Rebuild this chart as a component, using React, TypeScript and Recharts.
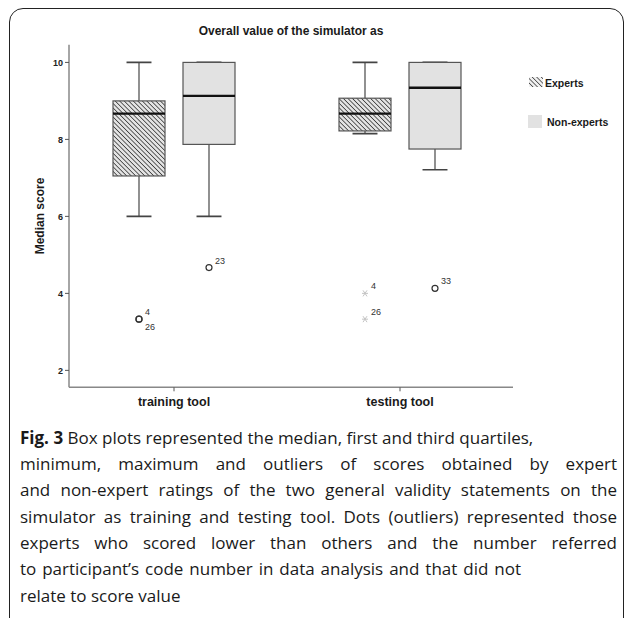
import React from 'react';
import { ComposedChart, Bar, XAxis, YAxis } from 'recharts';

// ---------- data ----------
const categories = ['training tool', 'testing tool'];
const seriesNames = ['Experts', 'Non-experts'];

const expertsMin = [6.0, 8.15];
const expertsQ1 = [7.05, 8.22];
const expertsMedian = [8.67, 8.67];
const expertsQ3 = [9.0, 9.07];
const expertsMax = [10.0, 10.0];

const nonExpertsMin = [6.0, 7.21];
const nonExpertsQ1 = [7.87, 7.75];
const nonExpertsMedian = [9.13, 9.34];
const nonExpertsQ3 = [10.0, 10.0];
const nonExpertsMax = [10.0, 10.0];

const expertsOutlierValues = [[3.33, 3.33], [4.0, 3.33]];
const expertsOutlierIds = [['4', '26'], ['4', '26']];
const expertsOutlierKinds = [['o', 'o'], ['*', '*']];

const nonExpertsOutlierValues = [[4.67], [4.13]];
const nonExpertsOutlierIds = [['23'], ['33']];
const nonExpertsOutlierKinds = [['o'], ['o']];

const yTicks = [2, 4, 6, 8, 10];
const yDomain = [1.56, 10.46];

const titleText = 'Overall value of the simulator as';
const yLabel = 'Median score';

const captionLines = [
  'Box plots represented the median, first and third quartiles,',
  'minimum, maximum and outliers of scores obtained by expert',
  'and non-expert ratings of the two general validity statements on the',
  'simulator as training and testing tool. Dots (outliers) represented those',
  'experts who scored lower than others and the number referred',
  'to participant\u2019s code number in data analysis and that did not',
  'relate to score value',
];
const captionLead = 'Fig. 3';

// ---------- build table ----------
const mkStats = (mins, q1s, meds, q3s, maxs, ov, oid, ok, i) => ({
  min: mins[i], q1: q1s[i], med: meds[i], q3: q3s[i], max: maxs[i],
  outliers: ov[i].map((v, j) => ({ v, id: oid[i][j], kind: ok[i][j] })),
});

const data = categories.map((category, i) => ({
  category,
  exp: mkStats(expertsMin, expertsQ1, expertsMedian, expertsQ3, expertsMax,
    expertsOutlierValues, expertsOutlierIds, expertsOutlierKinds, i),
  non: mkStats(nonExpertsMin, nonExpertsQ1, nonExpertsMedian, nonExpertsQ3, nonExpertsMax,
    nonExpertsOutlierValues, nonExpertsOutlierIds, nonExpertsOutlierKinds, i),
}));

const fontAx = '"Liberation Sans", Arial, sans-serif';

// ---------- box shape ----------
const BoxShape = (props: any) => {
  const { x, y, width, height, payload, skey, fill } = props;
  const s = payload[skey];
  const top = Math.min(y, y + height);
  const h = Math.abs(height);
  const ppu = h / (s.max - s.min);
  const py = (v: number) => top + (s.max - v) * ppu;
  const cx = x + width / 2;
  const capW = width * 0.48;
  let prev: number | null = null;
  return (
    <g>
      <line x1={cx} x2={cx} y1={py(s.max)} y2={py(s.q3)} stroke="#555" strokeWidth={1.3} />
      <line x1={cx} x2={cx} y1={py(s.q1)} y2={py(s.min)} stroke="#555" strokeWidth={1.3} />
      <line x1={cx - capW / 2} x2={cx + capW / 2} y1={py(s.max)} y2={py(s.max)} stroke="#444" strokeWidth={1.6} />
      <line x1={cx - capW / 2} x2={cx + capW / 2} y1={py(s.min)} y2={py(s.min)} stroke="#444" strokeWidth={1.6} />
      <rect x={x} y={py(s.q3)} width={width} height={py(s.q1) - py(s.q3)} fill={fill} stroke="#555" strokeWidth={1.2} />
      <line x1={x} x2={x + width} y1={py(s.med)} y2={py(s.med)} stroke="#111" strokeWidth={2.4} />
      {s.outliers.map((o: any, j: number) => {
        const oy = py(o.v);
        const same = prev !== null && Math.abs(prev - o.v) < 0.01;
        prev = o.v;
        const lx = cx + 6;
        const ly = same ? oy + 11 : oy - 4;
        return (
          <g key={j}>
            {o.kind === 'o' ? (
              <circle cx={cx} cy={oy} r={3} fill="none" stroke="#333" strokeWidth={1.2} />
            ) : (
              <g stroke="#c4c4c4" strokeWidth={1}>
                <line x1={cx - 3} x2={cx + 3} y1={oy} y2={oy} />
                <line x1={cx - 2} x2={cx + 2} y1={oy - 3} y2={oy + 3} />
                <line x1={cx + 2} x2={cx - 2} y1={oy - 3} y2={oy + 3} />
              </g>
            )}
            <text x={lx} y={ly} fontSize={9} fill="#333" fontFamily={fontAx}>{o.id}</text>
          </g>
        );
      })}
    </g>
  );
};

export default function App() {
  return (
    <div style={{ position: 'absolute', left: 0, top: 0, width: 627, height: 618, overflow: 'hidden', background: '#fff' }}>
      <div style={{ position: 'absolute', left: 9, top: 8, width: 615, height: 630, border: '1.5px solid #222', borderRadius: 14, boxSizing: 'border-box' }} />
      <div style={{ position: 'absolute', left: 69, top: 23, width: 444, textAlign: 'center', fontFamily: fontAx, fontSize: 12, fontWeight: 'bold', color: '#1a1a1a', lineHeight: '16px' }}>{titleText}</div>
      <div style={{ position: 'absolute', left: 0, top: 0 }}>
        <ComposedChart width={627} height={420} data={data} margin={{ top: 44.7, right: 114, left: 11, bottom: 2.7 }} barSize={52} barGap={18}>
          <defs>
            <pattern id="hatchExp" patternUnits="userSpaceOnUse" width="3.2" height="3.2" patternTransform="rotate(-45)">
              <rect width="3.2" height="3.2" fill="#e4e4e4" />
              <line x1="0" y1="0" x2="0" y2="3.2" stroke="#333" strokeWidth="1.5" />
            </pattern>
          </defs>
          <XAxis dataKey="category" padding={{ left: -8, right: 0 }} tickSize={4} tickMargin={6} height={30}
            axisLine={{ stroke: '#888', strokeWidth: 1.5 }} tickLine={{ stroke: '#555' }}
            tick={{ fontFamily: fontAx, fontSize: 12.5, fontWeight: 'bold', fill: '#1a1a1a' }} />
          <XAxis xAxisId="top" orientation="top" dataKey="category" height={0} tick={false} tickLine={false}
            axisLine={{ stroke: '#888', strokeWidth: 1.5 }} />
          <YAxis domain={yDomain} ticks={yTicks} allowDataOverflow type="number" width={58} tickSize={4} tickMargin={2}
            axisLine={{ stroke: '#888', strokeWidth: 1.5 }} tickLine={{ stroke: '#555' }}
            tick={{ fontFamily: fontAx, fontSize: 9, fontWeight: 'bold', fill: '#222' }}
            label={{ value: yLabel, angle: -90, position: 'center', style: { fontFamily: fontAx, fontSize: 12, fontWeight: 'bold', fill: '#1a1a1a', textAnchor: 'middle' } }} />
          <YAxis yAxisId="right" orientation="right" width={0} tick={false} tickLine={false} domain={yDomain} type="number"
            axisLine={{ stroke: '#888', strokeWidth: 1.5 }} />
          <Bar dataKey={(d: any) => [d.exp.min, d.exp.max]} name={seriesNames[0]} isAnimationActive={false}
            shape={(p: any) => <BoxShape {...p} skey="exp" fill="url(#hatchExp)" />} />
          <Bar dataKey={(d: any) => [d.non.min, d.non.max]} name={seriesNames[1]} isAnimationActive={false}
            shape={(p: any) => <BoxShape {...p} skey="non" fill="#e2e2e2" />} />
        </ComposedChart>
      </div>
      {/* legend */}
      <svg style={{ position: 'absolute', left: 520, top: 70 }} width={100} height={70}>
        <defs>
          <pattern id="hatchLeg" patternUnits="userSpaceOnUse" width="3.2" height="3.2" patternTransform="rotate(-45)">
            <rect width="3.2" height="3.2" fill="#f0f0f0" />
            <line x1="0" y1="0" x2="0" y2="3.2" stroke="#333" strokeWidth="1.4" />
          </pattern>
        </defs>
        <rect x={9} y={7} width={14} height={10} fill="url(#hatchLeg)" />
        <text x={25} y={16.5} fontFamily={fontAx} fontSize={10.5} fontWeight="bold" fill="#1a1a1a">{seriesNames[0]}</text>
        <rect x={8} y={45} width={14} height={13} fill="#e2e2e2" />
        <text x={27} y={56} fontFamily={fontAx} fontSize={10.5} fontWeight="bold" fill="#1a1a1a">{seriesNames[1]}</text>
      </svg>
      {/* caption */}
      <div style={{ position: 'absolute', left: 20, top: 424.85, fontFamily: '"Open Sans", sans-serif', fontSize: 17, lineHeight: '26.3px', color: '#1a1a1a' }}>
        {captionLines.map((ln, i) => {
          const justify = i >= 1 && i <= 5;
          const w = i === 5 ? 501 : 597;
          return (
            <div key={i} style={{ whiteSpace: 'nowrap', width: justify ? w : undefined, textAlign: justify ? 'justify' : 'left', textAlignLast: justify ? 'justify' : 'left' } as any}>
              {i === 0 ? <><b>{captionLead}</b>{' '}</> : null}{ln}
            </div>
          );
        })}
      </div>
    </div>
  );
}
